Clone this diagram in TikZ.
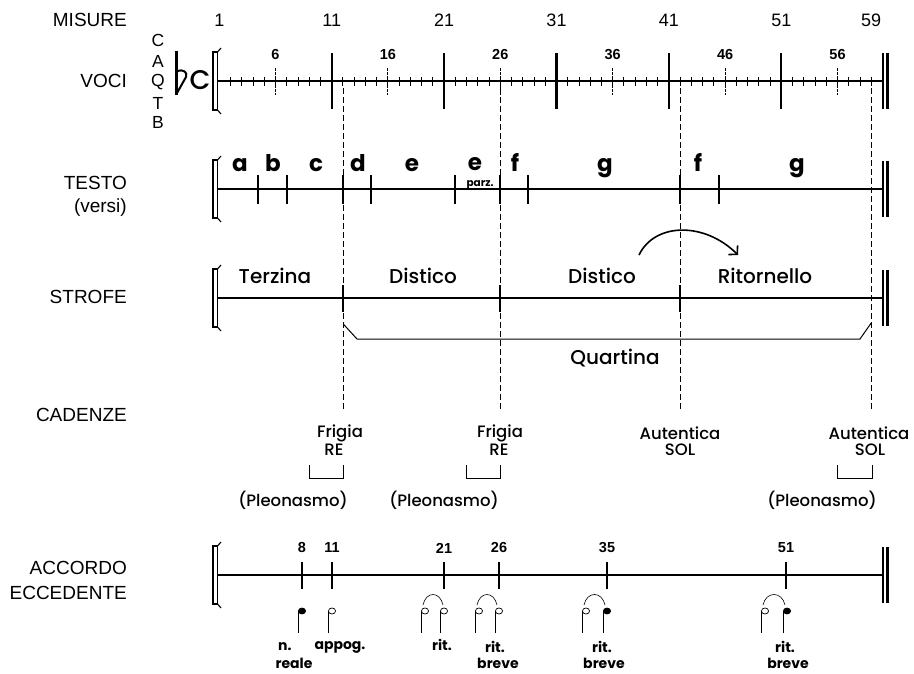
\documentclass[tikz,border=0pt]{standalone}
\usepackage{fontspec}
\setmainfont{Liberation Sans}
\newfontfamily\geo[UprightFont={* Medium},BoldFont={* Bold}]{Poppins}
\usetikzlibrary{arrows.meta}
\tikzset{
  rowlabel/.style={anchor=east, inner sep=0pt, font=\fontsize{19}{19}\selectfont},
  bignum/.style={inner sep=0pt, font=\fontsize{18}{18}\selectfont},
  smallnum/.style={inner sep=0pt, font=\bfseries\fontsize{14.5}{14.5}\selectfont},
  voice/.style={inner sep=0pt, font=\fontsize{17.5}{17.5}\selectfont},
  verse/.style={anchor=base, inner sep=0pt, font=\geo\bfseries\fontsize{23}{23}\selectfont},
  partial/.style={anchor=base, inner sep=0pt, font=\geo\bfseries\fontsize{10.5}{10.5}\selectfont},
  strofe/.style={inner sep=0pt, font=\geo\fontsize{20}{20}\selectfont},
  cad/.style={inner sep=0pt, font=\geo\fontsize{16.5}{16.5}\selectfont},
  tinylab/.style={inner sep=0pt, font=\geo\bfseries\fontsize{14}{14}\selectfont},
  staff/.style={line width=1.9pt},
  bigtick/.style={line width=2.1pt},
  midtick/.style={line width=0.9pt, dash pattern=on 3pt off 1.2pt},
  minortick/.style={line width=0.9pt},
  guide/.style={line width=0.7pt, dash pattern=on 6pt off 3pt},
  thinline/.style={line width=1pt},
  stem/.style={line width=0.7pt},
  sysbr/.pic={
    \draw[line width=1.4pt] (-6,-29) rectangle (-1.5,29);
    \draw[line width=1.1pt] (-1.5,-29) -- (2,-33);
    \draw[line width=1.1pt] (-1.5,29) -- (2,33);
  },
  endbar/.pic={
    \draw[line width=1.7pt] (-4,-28) -- (-4,28);
    \draw[line width=3pt] (0,-28) -- (0,28);
  },
  wnote/.pic={
    \draw[stem] (-3.4,0) -- (-3.4,22);
    \draw[line width=0.7pt, fill=white] (0,0) ellipse (3.6 and 3);
  },
  bnote/.pic={
    \draw[stem] (-3.4,0) -- (-3.4,22);
    \fill (0,0) ellipse (4 and 3.4);
  }
}
\begin{document}
\begin{tikzpicture}[x=1pt,y=-1pt]
\useasboundingbox (0,0) rectangle (914,674);

% ---------- row labels ----------
\node[rowlabel] (lMis) at (127,20) {MISURE};
\node[rowlabel] (lVoci) at (127,81) {VOCI};
\node[rowlabel] (lTesto) at (127,183) {TESTO};
\node[rowlabel] (lVersi) at (127,208) {(versi)};
\node[rowlabel] (lStrofe) at (127,297) {STROFE};
\node[rowlabel] (lCad) at (127,415) {CADENZE};
\node[rowlabel] (lAcc) at (127,568) {ACCORDO};
\node[rowlabel] (lEcc) at (127,593) {ECCEDENTE};

% ---------- voices ----------
\node[voice] (vC) at (158,40) {C};
\node[voice] (vA) at (158,61) {A};
\node[voice] (vQ) at (158,82) {Q};
\node[voice] (vT) at (158,103) {T};
\node[voice] (vB) at (158,122) {B};
\draw[line width=2.4pt] (176.5,51) -- (176.5,95);
\draw[line width=2pt, line join=round] (177,71) .. controls (183,69) and (188,72) .. (186,77) -- (177,93);
\node[inner sep=0pt, font=\geo\fontsize{27}{27}\selectfont] (tsig) at (200,80) {C};

% ---------- measure numbers ----------
\foreach \m in {1,11,21,31,41,51,59}
  \node[bignum] (mis\m) at ({219.3+(\m-1)*11.24},20) {\m};

% ---------- top ruler ----------
\pic at (219,81) {sysbr};
\draw[staff] (218,81) -- (883,81);
\foreach \m in {2,...,59}
  \draw[minortick] ({219.3+(\m-1)*11.24},77) -- ({219.3+(\m-1)*11.24},86);
\foreach \m in {6,16,26,36,46,56}{
  \draw[midtick] ({219.3+(\m-1)*11.24},68) -- ({219.3+(\m-1)*11.24},95);
  \node[smallnum] (sm\m) at ({219.3+(\m-1)*11.24},55) {\m};
}
\foreach \m in {11,21,31,41,51}
  \draw[bigtick] ({219.3+(\m-1)*11.24},53) -- ({219.3+(\m-1)*11.24},109);
\pic at (887,81) {endbar};

% ---------- dashed guides ----------
\foreach \x/\n in {343.3/a,500.3/b,680/c,871.2/d}{
  \coordinate (g\n top) at (\x,88);
  \coordinate (g\n bot) at (\x,410);
  \draw[guide] (g\n top) -- (g\n bot);
}

% ---------- testo ----------
\pic at (219,189) {sysbr};
\draw[staff] (218,189) -- (883,189);
\foreach \x in {258,287,343.3,371,455,500.3,528,680,719}
  \draw[bigtick] (\x,175) -- (\x,204);
\pic at (887,189) {endbar};
\foreach \x/\t/\n in {240/a/va,273/b/vb,316/c/vc,358/d/vd,412/e/ve,515/f/vf,605/g/vg,698/f/vf2,797/g/vg2}
  \node[verse] (\n) at (\x,172) {\t};
\node[verse] (ve2) at (475,170.5) {e};
\node[partial] (parz) at (480,186.5) {parz.};

% ---------- strofe ----------
\pic at (219,298) {sysbr};
\draw[staff] (218,298) -- (883,298);
\foreach \x in {343.3,500.3,680}
  \draw[bigtick] (\x,285) -- (\x,312);
\pic at (887,298) {endbar};
\node[strofe] (terz) at (275,276) {Terzina};
\node[strofe] (dist1) at (423,276) {Distico};
\node[strofe] (dist2) at (602,276) {Distico};
\node[strofe] (rit) at (765,276) {Ritornello};
\coordinate (qA) at (343.3,324);
\coordinate (qD) at (871.2,323);
\draw[thinline] (qA) -- (357,339) -- (860,339) -- (qD);
\node[strofe] (quart) at (615,358) {Quartina};
\coordinate (arcS) at (639,255);
\coordinate (arcE) at (738,255);
\draw[line width=1.6pt, -{Straight Barb[length=6pt,width=13pt]}]
  (arcS) .. controls (655,222) and (705,222) .. (arcE);

% ---------- cadenze ----------
\node[cad] (fr1) at (340,433) {Frigia};
\node[cad] (re1) at (334,450) {RE};
\node[cad] (fr2) at (500,433) {Frigia};
\node[cad] (re2) at (499,450) {RE};
\node[cad] (au1) at (680,433) {Autentica};
\node[cad] (sol1) at (680,450) {SOL};
\node[cad] (au2) at (869,433) {Autentica};
\node[cad] (sol2) at (870,450) {SOL};
\foreach \a/\b/\n in {309/343/p1,466/500.5/p2,837/872/p3}{
  \coordinate (\n L) at (\a,465);
  \coordinate (\n R) at (\b,465);
  \draw[thinline] (\n L) -- (\a,478) -- (\b,478) -- (\n R);
}
\node[cad] (pl1) at (293,500) {(Pleonasmo)};
\node[cad] (pl2) at (444,500) {(Pleonasmo)};
\node[cad] (pl3) at (822,500) {(Pleonasmo)};

% ---------- accordo eccedente ----------
\pic at (219,575) {sysbr};
\draw[staff] (218,575) -- (883,575);
\foreach \x/\m in {302/8,332/11,444/21,499/26,607/35,786/51}{
  \draw[bigtick] (\x,562) -- (\x,589);
  \node[smallnum] (acc\m) at (\x,548) {\m};
}
\pic at (887,575) {endbar};

% notes
\pic at (302,611) {bnote};
\pic at (332,611) {wnote};
\pic at (425,611) {wnote};
\pic at (444,611) {wnote};
\pic at (479,611) {wnote};
\pic at (499,611) {wnote};
\pic at (586,611) {wnote};
\pic at (607,611) {bnote};
\pic at (765,611) {wnote};
\pic at (787,611) {bnote};
% ties
\foreach \a/\b in {423/443,477/497,584/605,763/785}
  \draw[line width=0.6pt] (\a,605) .. controls (\a+3,591) and (\b-3,591) .. (\b,605);

% note labels
\node[tinylab, anchor=west] (nA) at (278,647) {n.};
\node[tinylab] (nB) at (294,663) {reale};
\node[tinylab] (app) at (340,647) {appog.};
\node[tinylab] (r21) at (442,645) {rit.};
\node[tinylab] (r26) at (495,647) {rit.};
\node[tinylab] (b26) at (498,663) {breve};
\node[tinylab] (r35) at (602,647) {rit.};
\node[tinylab] (b35) at (604,663) {breve};
\node[tinylab] (r51) at (785,647) {rit.};
\node[tinylab] (b51) at (788,663) {breve};
\end{tikzpicture}
\end{document}
